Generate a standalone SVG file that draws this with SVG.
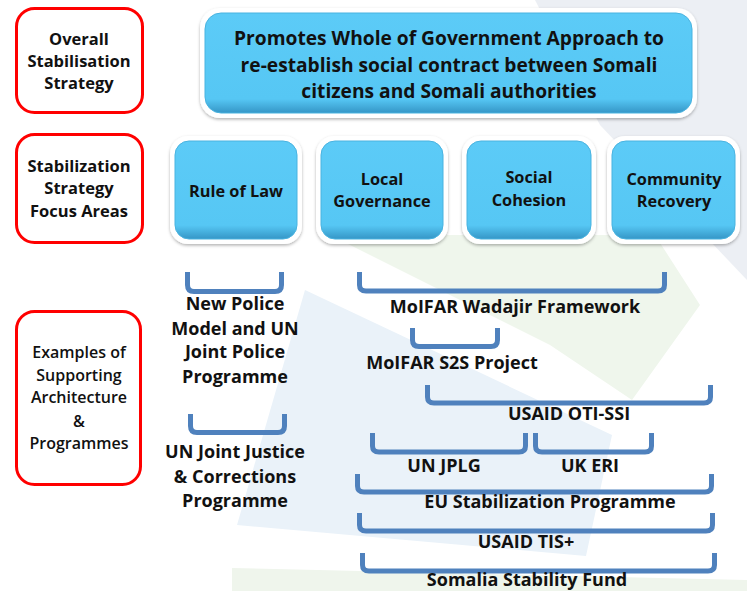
<svg xmlns="http://www.w3.org/2000/svg" width="747" height="591" viewBox="0 0 747 591">
<style>
.lbl{font-family:"Open Sans","Liberation Sans",sans-serif;font-weight:bold;fill:#111;text-anchor:middle}
.red{fill:#fff;stroke:#f00;stroke-width:3}
.outer{fill:#fff;filter:url(#sh)}
.inner{fill:url(#bg);stroke:#49b3e0;stroke-width:1}
.br{fill:none;stroke:#4f81bd;stroke-width:5;stroke-linecap:butt}
</style>
<defs>
<linearGradient id="bg" x1="0" y1="0" x2="0" y2="1">
<stop offset="0" stop-color="#5ccbf7"/>
<stop offset="0.86" stop-color="#56c7f4"/>
<stop offset="1" stop-color="#3596c6"/>
</linearGradient>
<filter id="sh" x="-10%" y="-10%" width="120%" height="130%">
<feDropShadow dx="0" dy="1.5" stdDeviation="1.5" flood-color="#000" flood-opacity="0.3"/>
</filter>
</defs>
<rect width="747" height="591" fill="#fff"/>
<g id="background">
<polygon points="535,0 747,0 747,280 600,125" fill="#eceff4"/>
<polygon points="330,235 655,235 700,305 632,400 550,345" fill="#eff6ec"/>
<polygon points="305,290 612,435 586,556 237,525" fill="#eaf2f9"/>
<polygon points="232,568 747,580 747,591 232,591" fill="#eff5ec"/>
</g>
<g id="overall-label">
<rect class="red" x="16.5" y="8.5" width="126" height="104" rx="18"/>
<text class="lbl" font-size="16.5" x="79" y="45">Overall</text>
<text class="lbl" font-size="16.5" x="79" y="67">Stabilisation</text>
<text class="lbl" font-size="16.5" x="79" y="89">Strategy</text>
</g>
<g id="focus-label">
<rect class="red" x="16.5" y="134.5" width="126" height="108" rx="18"/>
<text class="lbl" font-size="16.5" x="79" y="172">Stabilization</text>
<text class="lbl" font-size="16.5" x="79" y="194">Strategy</text>
<text class="lbl" font-size="16.5" x="79" y="217">Focus Areas</text>
</g>
<g id="examples-label">
<rect class="red" x="16.5" y="311.5" width="124" height="173" rx="18"/>
<text class="lbl" font-size="16" x="79" y="358" style="font-weight:600">Examples of</text>
<text class="lbl" font-size="16" x="79" y="381" style="font-weight:600">Supporting</text>
<text class="lbl" font-size="16" x="79" y="403" style="font-weight:600">Architecture</text>
<text class="lbl" font-size="16" x="79" y="427" style="font-weight:600">&amp;</text>
<text class="lbl" font-size="16" x="79" y="449" style="font-weight:600">Programmes</text>
</g>
<g id="overall-strategy">
<rect class="outer" x="200" y="8" width="497" height="110" rx="20"/>
<rect class="inner" x="205" y="13" width="487" height="100" rx="16"/>
<text class="lbl" font-size="19.2" x="449" y="45">Promotes Whole of Government Approach to</text>
<text class="lbl" font-size="19.2" x="449" y="71.5">re-establish social contract between Somali</text>
<text class="lbl" font-size="19.2" x="449" y="98">citizens and Somali authorities</text>
</g>
<g id="rule-of-law">
<rect class="outer" x="170" y="136" width="132" height="108" rx="18"/>
<rect class="inner" x="175" y="141" width="122" height="98" rx="14"/>
<text class="lbl" font-size="16.3" x="236" y="197">Rule of Law</text>
</g>
<g id="local-governance">
<rect class="outer" x="316" y="136" width="132" height="108" rx="18"/>
<rect class="inner" x="321" y="141" width="122" height="98" rx="14"/>
<text class="lbl" font-size="16.3" x="382" y="185">Local</text>
<text class="lbl" font-size="16.3" x="382" y="207">Governance</text>
</g>
<g id="social-cohesion">
<rect class="outer" x="462" y="136" width="134" height="108" rx="18"/>
<rect class="inner" x="467" y="141" width="124" height="98" rx="14"/>
<text class="lbl" font-size="16.3" x="529" y="183">Social</text>
<text class="lbl" font-size="16.3" x="529" y="206">Cohesion</text>
</g>
<g id="community-recovery">
<rect class="outer" x="607" y="136" width="133" height="108" rx="18"/>
<rect class="inner" x="612" y="141" width="123" height="98" rx="14"/>
<text class="lbl" font-size="16.3" x="674" y="185">Community</text>
<text class="lbl" font-size="16.3" x="674" y="207">Recovery</text>
</g>
<g id="connectors">
<path class="br" d="M187.5,272 V285 Q187.5,291.5 194,291.5 H275 Q281.5,291.5 281.5,285 V272"/>
<path class="br" d="M190.5,414 V426 Q190.5,432.5 197,432.5 H278 Q284.5,432.5 284.5,426 V414"/>
<path class="br" d="M359.5,272 V285 Q359.5,291 366,291 H658 Q664.5,291 664.5,285 V272"/>
<path class="br" d="M412.5,328 V340 Q412.5,346.5 419,346.5 H491 Q497.5,346.5 497.5,340 V328"/>
<path class="br" d="M427.5,385 V397 Q427.5,403 434,403 H704 Q710.5,403 710.5,397 V385"/>
<path class="br" d="M372.5,433 V446 Q372.5,452 379,452 H519 Q525.5,452 525.5,446 V433"/>
<path class="br" d="M535.5,433 V446 Q535.5,452 542,452 H645 Q651.5,452 651.5,446 V433"/>
<path class="br" d="M357.5,474 V486 Q357.5,492 364,492 H705 Q711.5,492 711.5,486 V474"/>
<path class="br" d="M359.5,513 V525 Q359.5,531 366,531 H706 Q712.5,531 712.5,525 V513"/>
<path class="br" d="M362.5,553 V565 Q362.5,571 369,571 H708 Q714.5,571 714.5,565 V553"/>
</g>
<g id="new-police">
<text class="lbl" font-size="18" x="235" y="310">New Police</text>
<text class="lbl" font-size="18" x="235" y="335">Model and UN</text>
<text class="lbl" font-size="18" x="235" y="358">Joint Police</text>
<text class="lbl" font-size="18" x="235" y="383">Programme</text>
</g>
<g id="un-justice">
<text class="lbl" font-size="18" x="235" y="458">UN Joint Justice</text>
<text class="lbl" font-size="18" x="235" y="483">&amp; Corrections</text>
<text class="lbl" font-size="18" x="235" y="507">Programme</text>
</g>
<g id="wadajir"><text class="lbl" font-size="18" x="515" y="313">MoIFAR Wadajir Framework</text></g>
<g id="s2s"><text class="lbl" font-size="18" x="452" y="369">MoIFAR S2S Project</text></g>
<g id="oti"><text class="lbl" font-size="18" x="569" y="420">USAID OTI-SSI</text></g>
<g id="jplg"><text class="lbl" font-size="18" x="444" y="472">UN JPLG</text></g>
<g id="eri"><text class="lbl" font-size="18" x="590" y="472">UK ERI</text></g>
<g id="eu"><text class="lbl" font-size="18" x="550" y="508">EU Stabilization Programme</text></g>
<g id="tis"><text class="lbl" font-size="18" x="526" y="548">USAID TIS+</text></g>
<g id="ssf"><text class="lbl" font-size="18" x="527" y="586">Somalia Stability Fund</text></g>
</svg>
